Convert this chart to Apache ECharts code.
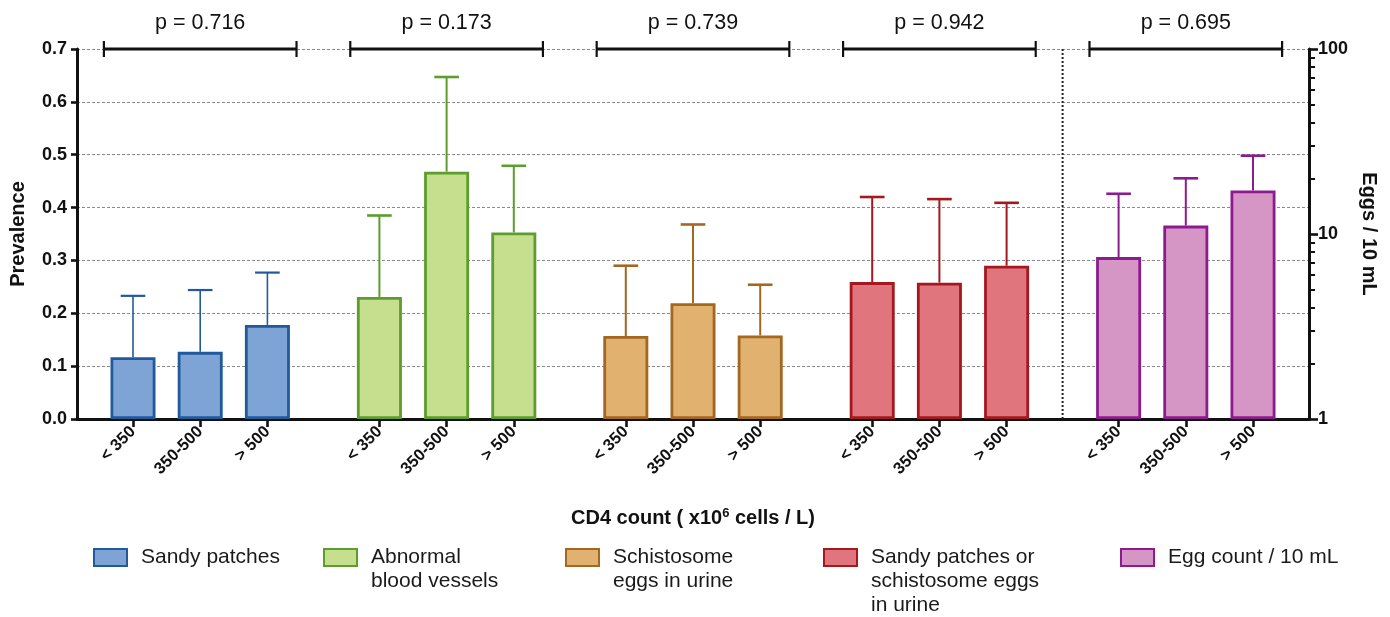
<!DOCTYPE html>
<html>
<head>
<meta charset="utf-8">
<script src="https://cdn.jsdelivr.net/npm/echarts@6/dist/echarts.min.js"></script>
<style>
  html, body { margin: 0; padding: 0; background: #fff; }
  #chart { width: 1390px; height: 617px; }
</style>
</head>
<body>
<div id="chart"></div>
<script>
// ---------------- DATA ----------------
const cd4Categories = ['< 350', '350-500', '> 500'];
const seriesNames = ['Sandy patches', 'Abnormal blood vessels', 'Schistosome eggs in urine',
  'Sandy patches or schistosome eggs in urine', 'Egg count / 10 mL'];
const legendLabels = ['Sandy patches', 'Abnormal\nblood vessels', 'Schistosome\neggs in urine',
  'Sandy patches or\nschistosome eggs\nin urine', 'Egg count / 10 mL'];

const sandyPatches      = [0.117, 0.127, 0.178];
const sandyPatchesUpper = [0.233, 0.244, 0.277];
const abnormalVessels      = [0.231, 0.468, 0.353];
const abnormalVesselsUpper = [0.385, 0.647, 0.479];
const schistoEggs      = [0.157, 0.219, 0.158];
const schistoEggsUpper = [0.290, 0.368, 0.254];
const sandyOrEggs      = [0.259, 0.258, 0.290];
const sandyOrEggsUpper = [0.420, 0.416, 0.409];
const eggCount      = [7.5, 11.1, 17.2];
const eggCountUpper = [16.5, 20.0, 26.5];

const pValues = ['0.716', '0.173', '0.739', '0.942', '0.695'];

const prevalenceTicks = [0, 0.1, 0.2, 0.3, 0.4, 0.5, 0.6, 0.7];
const eggMinorTicks = [2, 3, 4, 5, 6, 7, 8, 9, 20, 30, 40, 50, 60, 70, 80, 90];

// ---------------- LAYOUT / STYLE ----------------
const FONT = '"Liberation Sans", Arial, Helvetica, sans-serif';
const fills   = ['#7ea4d6', '#c5df8e', '#e1b170', '#e0757d', '#d696c5'];
const borders = ['#215a9c', '#5c9d2e', '#a4671f', '#a3191f', '#8d1b8f'];
const errWidths = [1.6, 2, 2, 2, 2];
const legendLeft = [93, 323, 565, 823, 1120];

const allMeans  = [sandyPatches, abnormalVessels, schistoEggs, sandyOrEggs, eggCount];
const allUppers = [sandyPatchesUpper, abnormalVesselsUpper, schistoEggsUpper, sandyOrEggsUpper, eggCountUpper];

// category slots: 3 bars per group, wider gaps between groups
const SLOTS = 55;
function slotOf(g, k) { return 2 + g * 11 + k * 3; }
const xLabels = new Array(SLOTS).fill('');
for (let g = 0; g < 5; g++) for (let k = 0; k < 3; k++) xLabels[slotOf(g, k)] = cd4Categories[k];

const series = [];
for (let g = 0; g < 5; g++) {
  const d = new Array(SLOTS).fill('-');
  for (let k = 0; k < 3; k++) d[slotOf(g, k)] = allMeans[g][k];
  series.push({
    type: 'bar', name: seriesNames[g], data: d,
    yAxisIndex: g === 4 ? 1 : 0,
    barWidth: 45, barGap: '-100%',
    itemStyle: { color: fills[g], borderColor: borders[g], borderWidth: 2.8 },
    z: 3
  });
}
for (let g = 0; g < 5; g++) {
  const color = borders[g], lw = errWidths[g];
  series.push({
    type: 'custom', name: seriesNames[g] + ' (error)', silent: true,
    yAxisIndex: g === 4 ? 1 : 0, z: 2, clip: false,
    data: [0, 1, 2].map(k => [slotOf(g, k), allMeans[g][k], allUppers[g][k]]),
    encode: { x: 0, y: [1, 2] },
    renderItem: function (params, api) {
      const x = api.value(0);
      const a = api.coord([x, api.value(1)]);
      const b = api.coord([x, api.value(2)]);
      const half = api.size([1, 0])[0] * 0.55;
      return { type: 'group', children: [
        { type: 'line', shape: { x1: a[0], y1: a[1], x2: b[0], y2: b[1] }, style: { stroke: color, lineWidth: lw } },
        { type: 'line', shape: { x1: b[0] - half, y1: b[1], x2: b[0] + half, y2: b[1] }, style: { stroke: color, lineWidth: lw + 0.6 } }
      ]};
    }
  });
}
// p-value brackets
series.push({
  type: 'custom', name: 'p-values', silent: true, clip: false, z: 5,
  data: pValues.map((p, g) => [slotOf(g, 1), 0.7]),
  encode: { x: 0, y: 1 },
  renderItem: function (params, api) {
    const c = api.coord([api.value(0), api.value(1)]);
    const slot = api.size([1, 0])[0];
    const hw = slot * 4.3;
    return { type: 'group', children: [
      { type: 'line', shape: { x1: c[0] - hw, y1: c[1], x2: c[0] + hw, y2: c[1] }, style: { stroke: '#111', lineWidth: 3 } },
      { type: 'line', shape: { x1: c[0] - hw, y1: c[1] - 8, x2: c[0] - hw, y2: c[1] + 8 }, style: { stroke: '#111', lineWidth: 2.2 } },
      { type: 'line', shape: { x1: c[0] + hw, y1: c[1] - 8, x2: c[0] + hw, y2: c[1] + 8 }, style: { stroke: '#111', lineWidth: 2.2 } },
      { type: 'text', style: { x: c[0], y: c[1] - 26, text: 'p = ' + pValues[params.dataIndex], fontSize: 21.5,
          fontFamily: FONT, fill: '#111', align: 'center', verticalAlign: 'middle' } }
    ]};
  }
});
// dotted separator between prevalence and egg-count groups
series.push({
  type: 'custom', name: 'separator', silent: true, clip: false, z: 1,
  data: [[slotOf(4, 0) - 3, 0]],
  encode: { x: 0, y: 1 },
  renderItem: function (params, api) {
    const slot = api.size([1, 0])[0];
    const b = api.coord([api.value(0), 0]);
    const t = api.coord([api.value(0), 0.7]);
    const x = b[0] + slot / 2;
    return { type: 'line', shape: { x1: x, y1: t[1], x2: x, y2: b[1] },
      style: { stroke: '#222', lineWidth: 2, lineDash: [2, 2] } };
  }
});

// legends: one per item; the swatch sits beside the first text line
const LH = 24, SW_W = 33, SW_H = 17;
const legends = seriesNames.map((name, i) => {
  const nLines = legendLabels[i].split('\n').length;
  const boxH = SW_H + (nLines - 1) * LH;
  // swatch drawn at the top of a taller (invisible) icon box
  const icon = 'path://M0,0L' + SW_W + ',0L' + SW_W + ',' + SW_H + 'L0,' + SW_H + 'Z M0,' + boxH + 'L0,' + boxH;
  const textTop = boxH / 2 - (nLines * LH) / 2;
  return {
    left: legendLeft[i], top: 549 + Math.min(0, textTop), padding: 0,
    data: [name], icon: icon, itemWidth: SW_W, itemHeight: boxH,
    formatter: () => legendLabels[i],
    selectedMode: false,
    textStyle: { fontFamily: FONT, fontSize: 21, color: '#1a1a1a', lineHeight: LH, padding: [0, 0, 0, 9] }
  };
});

const option = {
  animation: false,
  textStyle: { fontFamily: FONT },
  grid: { left: 77, right: 81, top: 49, bottom: 198, outerBoundsMode: 'none' },
  legend: legends,
  xAxis: {
    type: 'category', data: xLabels, boundaryGap: true,
    axisLine: { show: true, onZero: false, lineStyle: { color: '#111', width: 3 } },
    axisTick: { show: true, alignWithLabel: true, interval: (i, v) => v !== '', length: 8, lineStyle: { color: '#111', width: 2.6 } },
    axisLabel: { interval: (i, v) => v !== '', rotate: 45, fontWeight: 'bold', fontSize: 16.5, color: '#111', margin: 10, fontFamily: FONT },
    splitLine: { show: false },
    name: 'CD4 count ( x10{sup|6} cells / L)', nameLocation: 'middle', nameGap: 88,
    nameTextStyle: { fontFamily: FONT, fontSize: 20, fontWeight: 'bold', color: '#111',
      rich: { sup: { fontSize: 13, fontWeight: 'bold', verticalAlign: 'top', padding: [0, 0, 9, 0], color: '#111' } } }
  },
  yAxis: [
    {
      type: 'value', min: prevalenceTicks[0], max: prevalenceTicks[prevalenceTicks.length - 1], interval: 0.1,
      position: 'left',
      axisLine: { show: true, lineStyle: { color: '#111', width: 3 } },
      axisTick: { show: true, length: 6, lineStyle: { color: '#111', width: 2.6 } },
      axisLabel: { formatter: v => v.toFixed(1), fontSize: 18, fontWeight: 'bold', color: '#111', margin: 10, fontFamily: FONT },
      splitLine: { show: true, lineStyle: { color: '#8a8a8a', width: 1, type: [3, 2] } },
      name: 'Prevalence', nameLocation: 'middle', nameGap: 49,
      nameTextStyle: { fontFamily: FONT, fontSize: 20, fontWeight: 'bold', color: '#111' }
    },
    {
      type: 'log', logBase: 10, min: 1, max: 100, position: 'right',
      axisLine: { show: true, lineStyle: { color: '#111', width: 3 } },
      axisTick: { show: true, length: 9, lineStyle: { color: '#111', width: 2.6 } },
      axisLabel: { fontSize: 18, fontWeight: 'bold', color: '#111', margin: 9, fontFamily: FONT },
      splitLine: { show: false },
      name: 'Eggs / 10 mL', nameLocation: 'middle', nameGap: 46, nameRotate: -90,
      nameTextStyle: { fontFamily: FONT, fontSize: 20, fontWeight: 'bold', color: '#111' }
    },
    {
      type: 'log', logBase: 10, min: 1, max: 100, position: 'right',
      axisLine: { show: false },
      axisTick: { show: true, length: 6, customValues: eggMinorTicks, lineStyle: { color: '#111', width: 2 } },
      axisLabel: { show: false },
      splitLine: { show: false }
    }
  ],
  series: series
};

const chart = echarts.init(document.getElementById('chart'), null, { renderer: 'canvas' });
chart.setOption(option);
</script>
</body>
</html>
